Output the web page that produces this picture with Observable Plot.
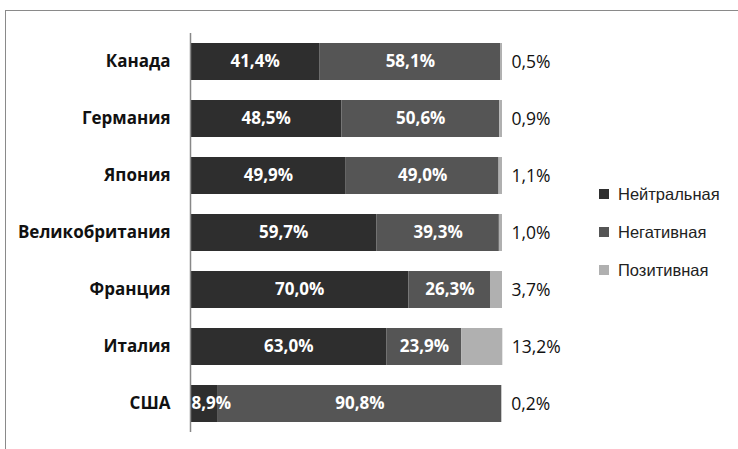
<!DOCTYPE html>
<html>
<head>
<meta charset="utf-8">
<script src="https://cdn.jsdelivr.net/npm/d3@7"></script>
<script src="https://cdn.jsdelivr.net/npm/@observablehq/plot@0.6"></script>
<style>
  body { margin: 0; background: #fff; }
  #wrap { position: relative; width: 738px; height: 449px; overflow: hidden; }
  #frame { position: absolute; left: 5px; top: 10px; width: 760px; height: 460px;
           border-top: 1.5px solid #8a8a8a; border-left: 1.5px solid #8a8a8a; }
  #legend { position: absolute; left: 599px; top: 175px; font-family: "Liberation Sans", Arial, sans-serif;
            font-size: 16.5px; color: #222; }
  .item { display: flex; align-items: center; height: 38px; margin: 0; }
  .sw { width: 10px; height: 10px; margin-right: 9px; }
  svg { position: absolute; left: 0; top: 0; }
</style>
</head>
<body>
<div id="wrap">
  <div id="frame"></div>
  <div id="chart"></div>
  <div id="legend"></div>
</div>
<script>
const countries = ["Канада", "Германия", "Япония", "Великобритания", "Франция", "Италия", "США"];
const neutral  = [41.4, 48.5, 49.9, 59.7, 70.0, 63.0, 8.9];
const negative = [58.1, 50.6, 49.0, 39.3, 26.3, 23.9, 90.8];
const positive = [0.5, 0.9, 1.1, 1.0, 3.7, 13.2, 0.2];
const series = ["Нейтральная", "Негативная", "Позитивная"];
const colors = ["#2e2e2e", "#555555", "#b0b0b0"];

const values = [neutral, negative, positive];
const rows = [];
countries.forEach((c, i) => {
  series.forEach((s, j) => rows.push({country: c, series: s, value: values[j][i]}));
});
const totals = countries.map((c, i) => ({country: c, total: neutral[i] + negative[i] + positive[i], value: positive[i]}));
const fmt = v => v.toFixed(1).replace(".", ",") + "%";
const inside = rows.filter(d => d.series !== "Позитивная");

const chart = Plot.plot({
  width: 738,
  height: 449,
  marginLeft: 190,
  marginRight: 236,
  marginTop: 33,
  marginBottom: 17,
  style: {fontFamily: "'Open Sans', sans-serif", background: "transparent"},
  x: {domain: [0, 100], axis: null},
  y: {domain: countries, paddingInner: 0.35, paddingOuter: 0.175, label: null},
  color: {domain: series, range: colors},
  marks: [
    Plot.barX(rows, Plot.stackX({y: "country", x: "value", fill: "series", order: series})),
    Plot.text(inside,
      Plot.stackX({y: "country", x: "value", z: "series", order: series,
        text: d => d.value >= 15 ? fmt(d.value) : null, fill: "white", fontWeight: "bold", fontSize: 17})),
    Plot.text(inside,
      Plot.stackX1({y: "country", x: "value", z: "series", order: series, textAnchor: "start", dx: 1,
        text: d => d.value < 15 ? fmt(d.value) : null, fill: "white", fontWeight: "bold", fontSize: 17})),
    Plot.text(totals, {y: "country", x: "total", text: d => fmt(d.value), textAnchor: "start",
      dx: 9, fill: "#111", fontSize: 17.5}),
    Plot.ruleX([0], {stroke: "#888", strokeWidth: 1.5}),
    Plot.axisY({tickSize: 0, tickPadding: 20, fontSize: 17, fontWeight: "bold", fill: "#111", label: null})
  ]
});
document.getElementById("chart").appendChild(chart);

const legend = document.getElementById("legend");
series.forEach((s, j) => {
  const it = document.createElement("div");
  it.className = "item";
  it.innerHTML = `<div class="sw" style="background:${colors[j]}"></div><span>${s}</span>`;
  legend.appendChild(it);
});
</script>
</body>
</html>
